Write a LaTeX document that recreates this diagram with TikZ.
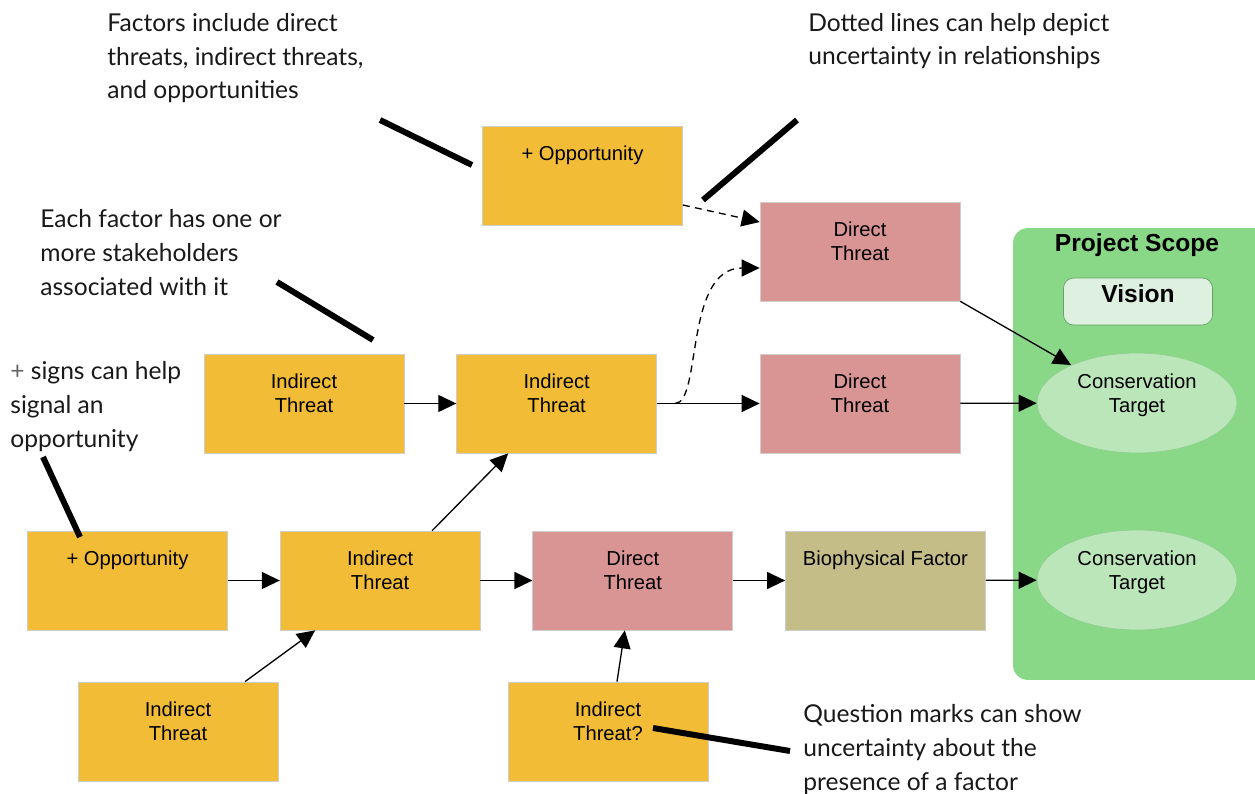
\documentclass[tikz,border=0pt]{standalone}
\usepackage{fontspec}
\setmainfont{Liberation Sans}
\newfontfamily\notefont{Lato}
\usetikzlibrary{arrows.meta,positioning,shapes.geometric}

\definecolor{factorfill}{RGB}{243,188,54}
\definecolor{directfill}{RGB}{217,148,148}
\definecolor{biofill}{RGB}{196,189,135}
\definecolor{scopefill}{RGB}{136,216,136}
\definecolor{targetfill}{RGB}{186,230,186}
\definecolor{visionfill}{RGB}{222,240,224}
\definecolor{boxline}{RGB}{205,205,205}

\tikzset{
  factor/.style={draw=boxline, fill=factorfill, inner sep=0pt,
    minimum width=4cm, minimum height=1.98cm,
    font=\fontsize{11.5}{14.2}\selectfont},
  direct/.style={factor, fill=directfill},
  bio/.style={factor, fill=biofill},
  target/.style={ellipse, draw=targetfill!85!black!40!scopefill, fill=targetfill,
    inner sep=0pt, minimum width=4cm, minimum height=2cm,
    font=\fontsize{11.5}{14.2}\selectfont},
  link/.style={-{Triangle[length=0.36cm,width=0.34cm]}, line width=0.75pt},
  maybe/.style={link, dash pattern=on 4pt off 3pt},
  callout/.style={line width=3.4pt},
  note/.style={font=\notefont\fontsize{14}{19.35}\selectfont, align=left,
    anchor=base west, inner sep=0pt, text=black!90}
}
\newcommand{\factorlabel}[1]{\parbox[c][1.98cm][t]{4cm}{\centering\rule{0pt}{0.68cm}#1}}
\newcommand{\targetlabel}[1]{\parbox[c][1.2cm][t]{2.6cm}{\centering\rule{0pt}{0.3cm}#1}}

\begin{document}
\begin{tikzpicture}[x=0.02cm, y=-0.02cm, node distance=1.04cm]
\useasboundingbox (0,0) rectangle (1255,794);

% project scope
\node[fill=scopefill, rounded corners=0.3cm, minimum width=5.1cm, minimum height=9.04cm,
      inner sep=0pt] (scope) at (1140.5,454) {};
\node[font=\bfseries\fontsize{14}{16}\selectfont] (scopetitle) at (1137,245) {Project Scope};
\node[draw=black!25!scopefill, fill=visionfill, rounded corners=0.2cm,
      minimum width=2.98cm, minimum height=0.94cm, text height=0.35cm, text depth=0.32cm,
      font=\bfseries\fontsize{14}{16}\selectfont] (vision) at (1138,301.5) {Vision};
\node[target] (ct1) at (1137,403) {\targetlabel{Conservation\\Target}};
\node[target] (ct2) at (1137,580) {\targetlabel{Conservation\\Target}};

% factors
\node[factor] (opptop) at (582.5,175.5) {\factorlabel{+ Opportunity}};
\node[direct] (dt1) at (860,251.5) {\factorlabel{Direct\\Threat}};
\node[factor] (ita) at (304,403.5) {\factorlabel{Indirect\\Threat}};
\node[factor] (itb) [right=of ita] {\factorlabel{Indirect\\Threat}};
\node[direct] (dt2) at (860,403.5) {\factorlabel{Direct\\Threat}};
\node[factor] (oppl) at (127.5,580.5) {\factorlabel{+ Opportunity}};
\node[factor] (itc) [right=of oppl] {\factorlabel{Indirect\\Threat}};
\node[direct] (dt3) [right=of itc] {\factorlabel{Direct\\Threat}};
\node[bio] (bio) [right=of dt3] {\factorlabel{Biophysical Factor}};
\node[factor] (itd) at (178,731.5) {\factorlabel{Indirect\\Threat}};
\node[factor] (ite) at (608,731.5) {\factorlabel{Indirect\\Threat?}};

% links
\coordinate (fork) at (675,403.5);
\draw[link] (ita) -- (itb);
\draw[link] (itb) -- (dt2);
\draw[link] (dt2) -- (ct1);
\draw[link] (dt1.south east) -- (ct1);
\draw[link] (oppl) -- (itc);
\draw[link] (itc) -- (dt3);
\draw[link] (dt3) -- (bio);
\draw[link] (bio) -- (ct2);
\draw[link] ([xshift=1.04cm]itc.north) -- ([xshift=-0.97cm]itb.south);
\draw[link] ([xshift=1.34cm]itd.north) -- ([xshift=-1.3cm]itc.south);
\draw[link] ([xshift=0.18cm]ite.north) -- ([xshift=-0.16cm]dt3.south);
\draw[maybe] ([yshift=-0.59cm]opptop.east) -- ([yshift=0.59cm]dt1.west);
\draw[maybe] (fork) .. controls (702,403) and (684,268) .. ([yshift=-0.33cm]dt1.west);

% notes (placed at the baseline of their last line)
\node[note] (factnote) at (107,99) {Factors include direct\\threats, indirect threats,\\and opportunities};
\node[note] (dotnote) at (808,65) {Dotted lines can help depict\\uncertainty in relationships};
\node[note] (stakenote) at (40,295) {Each factor has one or\\more stakeholders\\associated with it};
\node[note] (plusnote) at (10,447) {{\color{black!60}+} signs can help\\signal an\\opportunity};
\node[note] (qnote) at (803,790) {Question marks can show\\uncertainty about the\\presence of a factor};

% callouts
\coordinate (factfrom) at (380,120); \coordinate (factto) at (472,165);
\coordinate (dotfrom) at (797,120);  \coordinate (dotto) at (703,200);
\coordinate (stakefrom) at (277,282); \coordinate (staketo) at (373,340);
\coordinate (plusfrom) at (43,457);  \coordinate (plusto) at (80,537);
\coordinate (qfrom) at (790,751);    \coordinate (qto) at (653,728);
\draw[callout] (factfrom) -- (factto);
\draw[callout] (dotfrom) -- (dotto);
\draw[callout] (stakefrom) -- (staketo);
\draw[callout] (plusfrom) -- (plusto);
\draw[callout] (qfrom) -- (qto);
\end{tikzpicture}
\end{document}
